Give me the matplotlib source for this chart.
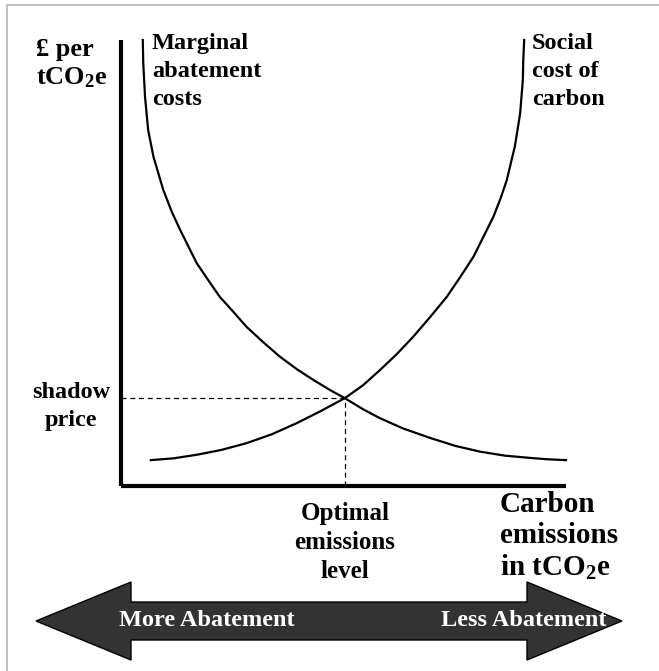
import matplotlib
matplotlib.use("Agg")
import matplotlib.pyplot as plt
from matplotlib.patches import Polygon

plt.rcParams['font.family'] = ['Liberation Serif', 'DejaVu Serif']
plt.rcParams['font.weight'] = 'bold'
plt.rcParams['mathtext.fontset'] = 'custom'
plt.rcParams['mathtext.rm'] = 'Liberation Serif:bold'
plt.rcParams['mathtext.it'] = 'Liberation Serif:bold'
plt.rcParams['mathtext.bf'] = 'Liberation Serif:bold'

# curves (emissions 0-100, cost 0-100)
mac_x = [4.9, 5.0, 5.4, 6.1, 7.3, 9.5, 11.4, 13.3, 17.0, 19.3, 22.2, 25.2, 28.2, 32.0, 35.7,
         39.5, 43.2, 47.0, 50.3, 54.4, 58.2, 63.4, 69.4, 75.1, 80.7, 86.3, 91.9, 95.7, 100]
mac_y = [100, 94.8, 87.3, 79.8, 73.8, 66.4, 61.5, 57.4, 50.0, 46.6, 42.4, 39.1, 35.7, 32.2, 29.0,
         26.2, 23.8, 21.5, 19.7, 17.2, 15.2, 12.9, 10.8, 9.0, 7.7, 6.8, 6.3, 6.0, 5.8]
scc_x = [6.7, 11.8, 17.0, 22.6, 28.2, 33.9, 39.5, 44.7, 50.3, 54.4, 58.2, 62.0, 65.7, 69.4, 73.2,
         76.2, 79.2, 81.4, 83.7, 85.3, 86.7, 87.6, 88.5, 89.1, 89.7, 90.0, 90.3, 90.4, 90.6]
scc_y = [5.8, 6.2, 7.0, 8.1, 9.6, 11.6, 14.1, 16.7, 19.7, 22.6, 26.0, 29.6, 33.5, 37.8, 42.4,
         46.8, 51.4, 55.8, 60.4, 64.5, 68.6, 72.4, 76.1, 79.8, 83.6, 87.3, 91.0, 95.5, 100]
optimal_x = 50.3
shadow_price = 19.7

W, H = 659, 671
fig = plt.figure(figsize=(W / 100, H / 100), dpi=100)

# overlay in pixel units for the frame, labels and the big arrow
ov = fig.add_axes([0, 0, 1, 1])
ov.set_xlim(0, W)
ov.set_ylim(H, 0)
ov.axis('off')

# main diagram
ax = fig.add_axes([121 / W, (H - 486) / H, (566 - 121) / W, (486 - 40) / H])
ax.set_xlim(0, 100)
ax.set_ylim(0, 100)
ax.patch.set_alpha(0)
for s in ['top', 'right']:
    ax.spines[s].set_visible(False)
for s in ['left', 'bottom']:
    ax.spines[s].set_linewidth(3)
    ax.spines[s].set_capstyle('butt')
ax.set_xticks([])
ax.set_yticks([])

ax.plot(mac_x, mac_y, color='black', lw=1.6, clip_on=False, solid_joinstyle='round')
ax.plot(scc_x, scc_y, color='black', lw=1.6, clip_on=False, solid_joinstyle='round')
ax.plot([0, optimal_x], [shadow_price, shadow_price], color='black', lw=0.9, dashes=(4, 3))
ax.plot([optimal_x, optimal_x], [0, shadow_price], color='black', lw=0.9, dashes=(4, 3))

# frame lines of the page
ov.plot([7, 7, W], [H, 5, 5], color='#b4b4b4', lw=1.2)

# labels
ov.text(36, 38, '£ per\ntCO$_2$e', ha='left', va='top', fontsize=19, linespacing=1.22)
ov.text(152, 33, 'Marginal\nabatement\ncosts', ha='left', va='top', fontsize=17.5, linespacing=1.45)
ov.text(532, 33, 'Social\ncost of\ncarbon', ha='left', va='top', fontsize=17.5, linespacing=1.45)
ov.text(71, 382, 'shadow\nprice', ha='center', va='top', fontsize=17.5, linespacing=1.42)
ov.text(345, 502, 'Optimal\nemissions\nlevel', ha='center', va='top', fontsize=18, linespacing=1.32)
ov.text(500, 491, 'Carbon\nemissions\nin tCO$_2$e', ha='left', va='top', fontsize=21, linespacing=1.17)

# double-headed arrow
cy = 621
left, left_base, right_base, right = 36, 131, 527, 622
head_h, shaft_h = 39, 19
pts = [(left, cy), (left_base, cy - head_h), (left_base, cy - shaft_h),
       (right_base, cy - shaft_h), (right_base, cy - head_h), (right, cy),
       (right_base, cy + head_h), (right_base, cy + shaft_h),
       (left_base, cy + shaft_h), (left_base, cy + head_h)]
ov.add_patch(Polygon(pts, closed=True, facecolor='#333333', edgecolor='black', lw=1))
ov.text(207, cy, 'More Abatement', color='white', ha='center', va='center', fontsize=17.5)
ov.text(524, cy, 'Less Abatement', color='white', ha='center', va='center', fontsize=17.5)

fig.savefig('out.png', dpi=100)
